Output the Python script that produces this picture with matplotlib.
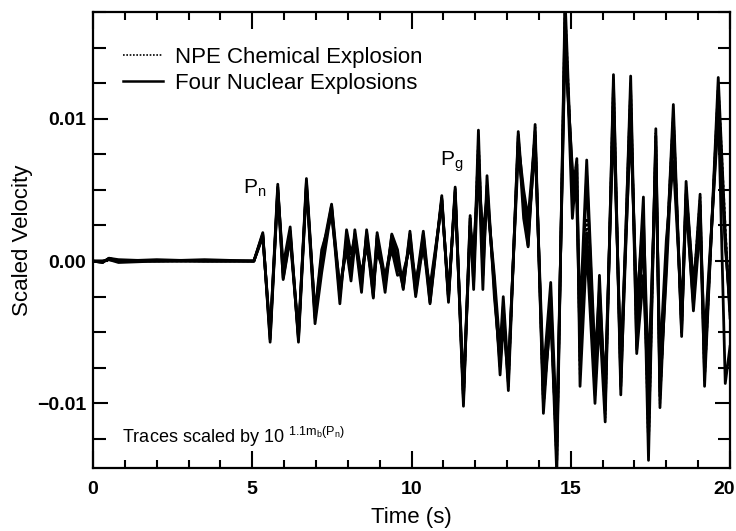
import matplotlib
matplotlib.use("Agg")
import matplotlib.pyplot as plt
import matplotlib.transforms as mtransforms
from matplotlib.lines import Line2D
import numpy as np

plt.rcParams['font.family'] = ['Liberation Sans', 'DejaVu Sans']
plt.rcParams['mathtext.default'] = 'regular'

# times of the picked peaks / troughs (s)
t = [0.0, 0.3, 0.5, 0.8, 2.0, 3.5, 5.05, 5.33, 5.56, 5.80,
     5.97, 6.19, 6.45, 6.70, 6.97, 7.18, 7.49, 7.75, 7.96, 8.10,
     8.22, 8.43, 8.59, 8.80, 8.92, 9.17, 9.38, 9.56, 9.74, 9.95,
     10.13, 10.37, 10.58, 10.95, 11.16, 11.37, 11.63, 11.84, 11.95, 12.10,
     12.24, 12.37, 12.60, 12.78, 12.88, 13.04, 13.35, 13.52, 13.66, 13.88,
     14.14, 14.37, 14.56, 14.82, 15.05, 15.19, 15.29, 15.50, 15.76, 15.90,
     16.08, 16.34, 16.57, 16.88, 17.07, 17.28, 17.44, 17.67, 17.80, 18.00,
     18.22, 18.48, 18.62, 18.85, 19.06, 19.20, 19.63, 19.85, 20.00]

# four nuclear explosions
nuc1 = [0.0, -0.0001, 0.0002, 0.0, 0.0, 0.0, 0.0, 0.0019, -0.0055, 0.0052,
        -0.0008, 0.0021, -0.0055, 0.0056, -0.0040, 0.0000, 0.0039, -0.0025, 0.0016, -0.0005,
        0.0019, -0.0017, 0.0020, -0.0025, 0.0016, -0.0017, 0.0018, 0.0, -0.0019, 0.0019,
        -0.0023, 0.0019, -0.0029, 0.0046, -0.0029, 0.0052, -0.0102, 0.0032, -0.0015, 0.0092,
        -0.0010, 0.0053, -0.0020, -0.0074, -0.0032, -0.0091, 0.0091, 0.0040, 0.0011, 0.0096,
        -0.0107, -0.0032, -0.0150, 0.0185, 0.0045, 0.0072, -0.0088, 0.0010, -0.0100, -0.0040,
        -0.0113, 0.0131, -0.0094, 0.0130, -0.0062, 0.0020, -0.0140, 0.0093, -0.0103, 0.0000,
        0.0110, -0.0053, 0.0056, -0.0022, 0.0047, -0.0088, 0.0129, 0.0020, -0.0040]
nuc2 = [0.0, 0.0, 0.0001, 0.0, 0.0001, 0.0, 0.0, 0.0017, -0.0050, 0.0048,
        -0.0012, 0.0018, -0.0050, 0.0052, -0.0036, 0.0008, 0.0032, -0.0018, 0.0008, -0.0014,
        0.0012, -0.0008, 0.0010, -0.0016, 0.0006, -0.0010, 0.0008, -0.0010, -0.0008, 0.0010,
        -0.0013, 0.0008, -0.0018, 0.0040, -0.0022, 0.0045, -0.0090, 0.0025, -0.0008, 0.0080,
        0.0005, 0.0045, -0.0010, -0.0062, -0.0025, -0.0080, 0.0083, 0.0050, 0.0030, 0.0088,
        -0.0095, -0.0040, -0.0130, 0.0160, 0.0060, 0.0050, -0.0040, 0.0071, -0.0069, -0.0020,
        -0.0095, 0.0110, -0.0080, 0.0120, -0.0065, -0.0010, -0.0100, 0.0080, -0.0090, -0.0010,
        0.0095, -0.0045, 0.0040, -0.0030, 0.0040, -0.0070, 0.0110, -0.0086, -0.0060]
nuc3 = [0.0, -0.0001, 0.0002, 0.0001, 0.0, 0.0, 0.0, 0.0020, -0.0057, 0.0050,
        -0.0003, 0.0024, -0.0057, 0.0053, -0.0044, -0.0008, 0.0037, -0.0030, 0.0022, 0.0005,
        0.0017, -0.0022, 0.0022, -0.0016, 0.0018, -0.0022, 0.0019, 0.0008, -0.0020, 0.0021,
        -0.0018, 0.0021, -0.0024, 0.0043, -0.0025, 0.0048, -0.0098, 0.0030, -0.0020, 0.0070,
        -0.0020, 0.0060, -0.0025, -0.0070, -0.0040, -0.0085, 0.0088, 0.0030, 0.0010, 0.0090,
        -0.0100, -0.0025, -0.0140, 0.0175, 0.0030, 0.0068, -0.0070, 0.0020, -0.0090, -0.0010,
        -0.0105, 0.0125, -0.0088, 0.0105, -0.0040, 0.0045, -0.0125, 0.0088, -0.0095, 0.0005,
        0.0100, -0.0050, 0.0048, -0.0015, 0.0030, -0.0080, 0.0120, 0.0010, -0.0030]
nuc4 = [0.0, 0.0, 0.0001, -0.0001, 0.0, 0.0001, 0.0, 0.0018, -0.0052, 0.0054,
        -0.0013, 0.0016, -0.0053, 0.0058, -0.0038, 0.0004, 0.0040, -0.0020, 0.0012, -0.0008,
        0.0022, -0.0012, 0.0016, -0.0026, 0.0020, -0.0012, 0.0014, -0.0005, -0.0012, 0.0013,
        -0.0025, 0.0013, -0.0030, 0.0044, -0.0027, 0.0050, -0.0095, 0.0022, 0.0010, 0.0060,
        0.0020, 0.0045, -0.0015, -0.0080, -0.0045, -0.0075, 0.0075, 0.0045, 0.0020, 0.0080,
        -0.0080, -0.0015, -0.0120, 0.0150, 0.0065, 0.0040, -0.0055, 0.0060, -0.0075, -0.0035,
        -0.0085, 0.0100, -0.0070, 0.0095, -0.0030, 0.0030, -0.0080, 0.0065, -0.0070, 0.0015,
        0.0070, -0.0035, 0.0045, -0.0035, 0.0025, -0.0055, 0.0100, 0.0015, -0.0035]
# NPE chemical explosion
npe = [0.0, -0.0001, 0.0002, 0.0, 0.0, 0.0, 0.0, 0.0019, -0.0054, 0.0051,
       -0.0009, 0.0020, -0.0054, 0.0055, -0.0039, 0.0001, 0.0038, -0.0024, 0.0017, -0.0004,
       0.0018, -0.0016, 0.0019, -0.0024, 0.0015, -0.0016, 0.0017, 0.0001, -0.0018, 0.0018,
       -0.0022, 0.0018, -0.0028, 0.0045, -0.0028, 0.0051, -0.0100, 0.0030, -0.0012, 0.0088,
       -0.0005, 0.0050, -0.0018, -0.0072, -0.0030, -0.0088, 0.0089, 0.0035, 0.0015, 0.0094,
       -0.0104, -0.0030, -0.0145, 0.0180, 0.0050, 0.0070, -0.0080, 0.0030, -0.0095, -0.0030,
       -0.0110, 0.0128, -0.0090, 0.0125, -0.0060, 0.0025, -0.0135, 0.0090, -0.0100, 0.0003,
       0.0105, -0.0050, 0.0052, -0.0020, 0.0045, -0.0085, 0.0125, 0.0025, -0.0038]

y_ticks = [-0.01, 0.0, 0.01]
y_tick_labels = ['\u22120.01', '0.00', '0.01']
x_ticks = [0, 5, 10, 15, 20]

fig = plt.figure(figsize=(7.36, 5.31), dpi=100)
ax = fig.add_axes([0.1264, 0.1186, 0.8655, 0.8588])

for v in [nuc1, nuc2, nuc3, nuc4]:
    ax.plot(t, v, color='black', lw=2.0, solid_joinstyle='round')
ax.plot(t, npe, color='black', lw=1.6, ls=(0, (1, 1)))

ax.set_xlim(0, 20)
ax.set_ylim(-0.01454, 0.01748)

tick_font = {'family': ['Liberation Sans Narrow', 'Liberation Sans'], 'weight': 'bold', 'size': 14}
ax.set_xticks(x_ticks)
ax.set_xticklabels([str(x) for x in x_ticks], fontdict=tick_font)
ax.set_xticks(np.arange(0, 21, 1), minor=True)
ax.set_yticks(y_ticks)
ax.set_yticklabels(y_tick_labels, fontdict=tick_font)
ax.set_yticks(np.arange(-0.0125, 0.0176, 0.0025), minor=True)

ax.tick_params(which='both', direction='in', top=True, right=True, width=1.5)
ax.tick_params(axis='x', which='major', length=12, pad=9)
ax.tick_params(axis='x', which='minor', length=6)
ax.tick_params(axis='y', which='major', length=11, pad=5)
ax.tick_params(axis='y', which='minor', length=9)
for s in ax.spines.values():
    s.set_linewidth(1.6)

# keep the "20" inside the canvas
last = ax.get_xticklabels()[-1]
last.set_transform(last.get_transform() +
                   mtransforms.ScaledTranslation(-6 / 100, 0, fig.dpi_scale_trans))

ax.set_xlabel('Time (s)', fontsize=16, labelpad=7)
ax.set_ylabel('Scaled Velocity', fontsize=16, labelpad=3)

ax.text(4.71, 0.0047, 'P$_n$', fontsize=15)
ax.text(10.9, 0.0067, 'P$_g$', fontsize=15)
ax.text(0.9, -0.0128, 'Traces scaled by 10 $^{1.1 m_b(P_n)}$', fontsize=13)

handles = [Line2D([], [], color='black', lw=1.2, ls=(0, (1, 1))),
           Line2D([], [], color='black', lw=1.8)]
ax.legend(handles, ['NPE Chemical Explosion', 'Four Nuclear Explosions'],
          loc='upper left', bbox_to_anchor=(0.047, 0.924), frameon=False,
          fontsize=16, handlelength=1.8, handletextpad=0.55, labelspacing=0.25,
          borderpad=0, borderaxespad=0)

fig.savefig('out.png', dpi=100)
